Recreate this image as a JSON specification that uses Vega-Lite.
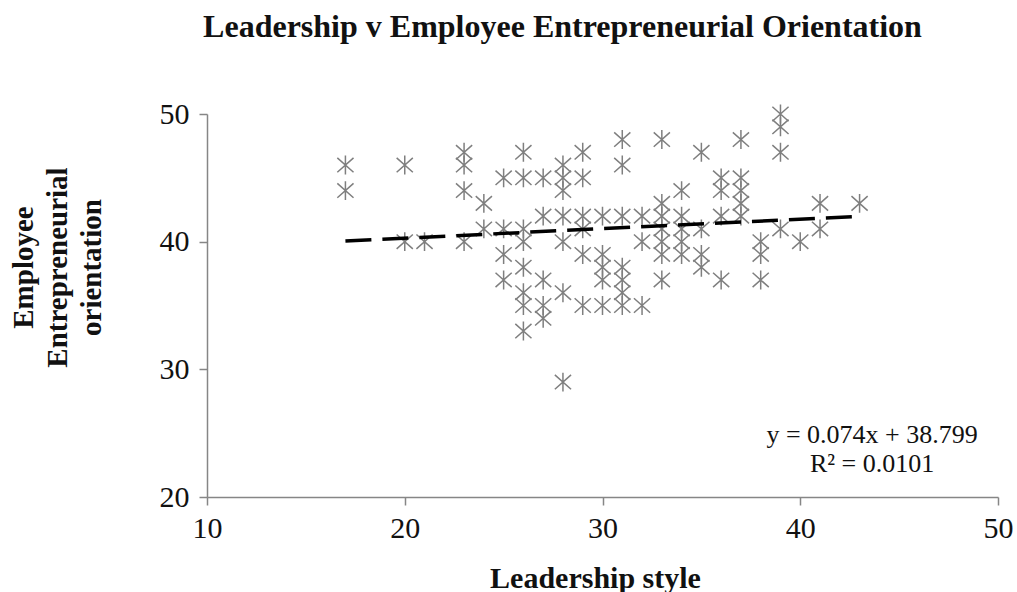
{
  "$schema": "https://vega.github.io/schema/vega-lite/v6.json",
  "autosize": {"type": "none"},
  "width": 791,
  "height": 383,
  "padding": {"left": 207, "top": 114, "right": 19, "bottom": 95},
  "background": "white",
  "config": {
    "view": {"stroke": null},
    "font": "Liberation Serif"
  },
  "title": {
    "text": "Leadership v Employee  Entrepreneurial Orientation",
    "anchor": "middle",
    "dx": -40,
    "offset": 55,
    "fontSize": 32,
    "font": "Liberation Serif",
    "fontWeight": "bold",
    "color": "#111"
  },
  "datasets": {
    "points": [
      {"x": 17, "y": 46}, {"x": 17, "y": 44},
      {"x": 20, "y": 46}, {"x": 20, "y": 40},
      {"x": 21, "y": 40},
      {"x": 23, "y": 47}, {"x": 23, "y": 46}, {"x": 23, "y": 44}, {"x": 23, "y": 40},
      {"x": 24, "y": 43}, {"x": 24, "y": 41},
      {"x": 25, "y": 45}, {"x": 25, "y": 41}, {"x": 25, "y": 39}, {"x": 25, "y": 37},
      {"x": 26, "y": 47}, {"x": 26, "y": 45}, {"x": 26, "y": 41}, {"x": 26, "y": 40}, {"x": 26, "y": 38}, {"x": 26, "y": 36}, {"x": 26, "y": 35}, {"x": 26, "y": 33},
      {"x": 27, "y": 45}, {"x": 27, "y": 42}, {"x": 27, "y": 37}, {"x": 27, "y": 35}, {"x": 27, "y": 34},
      {"x": 28, "y": 46}, {"x": 28, "y": 45}, {"x": 28, "y": 44}, {"x": 28, "y": 42}, {"x": 28, "y": 40}, {"x": 28, "y": 36}, {"x": 28, "y": 29},
      {"x": 29, "y": 47}, {"x": 29, "y": 45}, {"x": 29, "y": 42}, {"x": 29, "y": 41}, {"x": 29, "y": 39}, {"x": 29, "y": 35},
      {"x": 30, "y": 42}, {"x": 30, "y": 39}, {"x": 30, "y": 38}, {"x": 30, "y": 37}, {"x": 30, "y": 35},
      {"x": 31, "y": 48}, {"x": 31, "y": 46}, {"x": 31, "y": 42}, {"x": 31, "y": 38}, {"x": 31, "y": 37}, {"x": 31, "y": 36}, {"x": 31, "y": 35},
      {"x": 32, "y": 42}, {"x": 32, "y": 40}, {"x": 32, "y": 35},
      {"x": 33, "y": 48}, {"x": 33, "y": 43}, {"x": 33, "y": 42}, {"x": 33, "y": 41}, {"x": 33, "y": 40}, {"x": 33, "y": 39}, {"x": 33, "y": 37},
      {"x": 34, "y": 44}, {"x": 34, "y": 42}, {"x": 34, "y": 41}, {"x": 34, "y": 40}, {"x": 34, "y": 39},
      {"x": 35, "y": 47}, {"x": 35, "y": 41}, {"x": 35, "y": 39}, {"x": 35, "y": 38},
      {"x": 36, "y": 45}, {"x": 36, "y": 44}, {"x": 36, "y": 42}, {"x": 36, "y": 37},
      {"x": 37, "y": 48}, {"x": 37, "y": 45}, {"x": 37, "y": 44}, {"x": 37, "y": 43}, {"x": 37, "y": 42},
      {"x": 38, "y": 40}, {"x": 38, "y": 39}, {"x": 38, "y": 37},
      {"x": 39, "y": 50}, {"x": 39, "y": 49}, {"x": 39, "y": 47}, {"x": 39, "y": 41},
      {"x": 40, "y": 40},
      {"x": 41, "y": 43}, {"x": 41, "y": 41},
      {"x": 43, "y": 43}
    ],
    "trend": [
      {"x": 17, "y": 40.057},
      {"x": 43, "y": 41.981}
    ],
    "labels": [
      {"x": 43.63, "y": 24.85, "label": "y = 0.074x + 38.799"},
      {"x": 43.63, "y": 22.6, "label": "R² = 0.0101"}
    ]
  },
  "layer": [
    {
      "data": {"name": "points"},
      "mark": {
        "type": "point",
        "shape": "M0,-1.05L0,1.05M-0.9,-0.8L0.9,0.8M-0.9,0.8L0.9,-0.8",
        "size": 324,
        "filled": false,
        "stroke": "#7f7f7f",
        "strokeWidth": 1.5,
        "opacity": 1
      },
      "encoding": {
        "x": {
          "field": "x",
          "type": "quantitative",
          "scale": {"domain": [10, 50], "nice": false, "zero": false},
          "axis": {
            "values": [10, 20, 30, 40, 50],
            "grid": false,
            "labelFlush": false,
            "labelOverlap": false,
            "domainColor": "#868686",
            "domainWidth": 1.5,
            "tickColor": "#868686",
            "tickWidth": 1.5,
            "tickSize": 8,
            "labelFontSize": 30,
            "labelFont": "Liberation Serif",
            "labelColor": "#111",
            "labelPadding": 8,
            "title": "Leadership style",
            "titleFont": "Liberation Serif",
            "titleFontSize": 30,
            "titleFontWeight": "bold",
            "titleColor": "#111",
            "titleX": 388,
            "titleY": 81,
            "titleBaseline": "middle",
            "titleAnchor": null,
            "titleAlign": "center"
          }
        },
        "y": {
          "field": "y",
          "type": "quantitative",
          "scale": {"domain": [20, 50], "nice": false, "zero": false},
          "axis": {
            "values": [20, 30, 40, 50],
            "grid": false,
            "labelFlush": false,
            "labelOverlap": false,
            "domainColor": "#868686",
            "domainWidth": 1.5,
            "tickColor": "#868686",
            "tickWidth": 1.5,
            "tickSize": 8,
            "labelFontSize": 30,
            "labelFont": "Liberation Serif",
            "labelColor": "#111",
            "labelPadding": 10,
            "title": ["Employee", "Entrepreneurial", "orientation"],
            "titleFont": "Liberation Serif",
            "titleFontSize": 29,
            "titleFontWeight": "bold",
            "titleColor": "#111",
            "titleLineHeight": 34,
            "titleAngle": -90,
            "titleX": -184,
            "titleY": 153,
            "titleAlign": "center",
            "titleBaseline": "middle",
            "titleAnchor": null
          }
        }
      }
    },
    {
      "data": {"name": "trend"},
      "mark": {
        "type": "line",
        "color": "#000",
        "strokeWidth": 3.5,
        "strokeDash": [26, 11]
      },
      "encoding": {
        "x": {"field": "x", "type": "quantitative"},
        "y": {"field": "y", "type": "quantitative"}
      }
    },
    {
      "data": {"name": "labels"},
      "mark": {
        "type": "text",
        "font": "Liberation Serif",
        "fontSize": 26,
        "color": "#111",
        "align": "center",
        "baseline": "middle"
      },
      "encoding": {
        "x": {"field": "x", "type": "quantitative"},
        "y": {"field": "y", "type": "quantitative"},
        "text": {"field": "label"}
      }
    }
  ]
}
